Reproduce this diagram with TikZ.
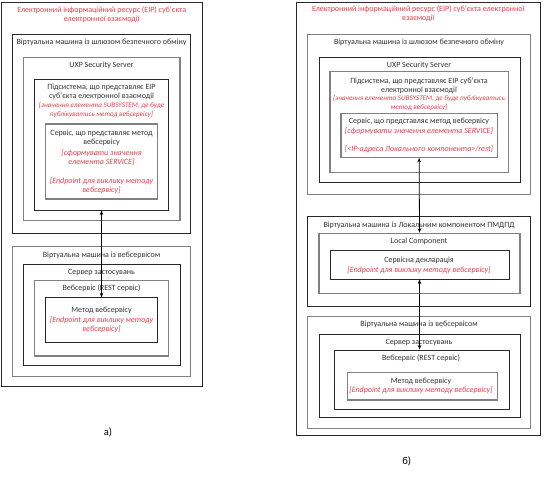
\documentclass[tikz,border=0pt]{standalone}
\usepackage{fontspec}
\setmainfont{Carlito}
\usetikzlibrary{fit,arrows.meta}
\definecolor{redtxt}{RGB}{232,62,76}
\definecolor{gline}{RGB}{128,128,128}
\definecolor{dline}{RGB}{40,40,40}
\tikzset{
  box/.style={draw=dline, line width=0.9pt, inner sep=0pt, fill=none},
  gbox/.style={draw=gline, line width=1.1pt, inner sep=0pt, fill=none},
  txt/.style={text=black!80, font=\fontsize{8}{9}\selectfont, align=center, inner sep=0pt},
  rtxt/.style={text=redtxt, font=\fontsize{8}{9}\selectfont\itshape, align=center, inner sep=0pt},
  srtxt/.style={text=redtxt, font=\fontsize{7.1}{9}\selectfont\itshape, align=center, inner sep=0pt},
  ttl/.style={text=redtxt, font=\fontsize{8}{9}\selectfont, align=center, inner sep=0pt},
  figlabel/.style={text=black, font=\fontsize{10.5}{12}\selectfont, inner sep=0pt},
  link/.style={draw=black, line width=0.8pt, {Stealth[length=4.5pt,width=3.5pt]}-{Stealth[length=4.5pt,width=3.5pt]}}
}
\begin{document}
\begin{tikzpicture}[x=1pt,y=-1pt]
\useasboundingbox[fill=white] (0,0) rectangle (545,476);
% ---------- panel a ----------
\node[box, fit={(1.5,2) (202,386)}] (frA) {};
\node[box, fit={(12.3,34) (190.7,233)}] (vm1A) {};
\node[gbox, fit={(23.3,57.3) (180,220.7)}] (uxpA) {};
\node[box, fit={(34.3,79.3) (168.7,210)}] (subA) {};
\node[gbox, fit={(45.7,124) (157.3,199)}] (srvA) {};
\node[gbox, fit={(12.3,246.7) (190.7,376.7)}] (vm2A) {};
\node[box, fit={(23.3,264) (180,365)}] (appA) {};
\node[gbox, fit={(34.7,280.7) (168.7,356)}] (wsA) {};
\node[box, fit={(45.7,297.7) (157.3,342.7)}] (methA) {};

\node[ttl] (tA1) at (101.7,14.5) {Електронний інформаційний ресурс (ЕІР) суб’єкта\\електронної взаємодії};
\node[txt] (tA2) at (101.5,42.7) {Віртуальна машина із шлюзом безпечного обміну};
\node[txt] (tA3) at (101.5,65.7) {UXP Security Server};
\node[txt] (tA4) at (101.5,92.3) {Підсистема, що представляє ЕІР\\суб’єкта електронної взаємодії};
\node[srtxt] (tA5) at (101.5,110.5) {[значення елемента SUBSYSTEM, де буде\\публікуватись метод вебсервісу]};
\node[txt] (tA6) at (101.5,138.3) {Сервіс, що представляє метод\\вебсервісу};
\node[rtxt] (tA7) at (101.5,157.2) {[сформувати значення\\елемента SERVICE]};
\node[rtxt] (tA8) at (101.5,185.8) {[Endpoint для виклику методу\\вебсервісу]};
\node[txt] (tA9) at (101.5,255) {Віртуальна машина із вебсервісом};
\node[txt] (tA10) at (101.5,272.7) {Сервер застосувань};
\node[txt] (tA11) at (101.5,288.7) {Вебсервіс (REST сервіс)};
\node[txt] (tA12) at (101.5,310.7) {Метод вебсервісу};
\node[rtxt] (tA13) at (101.5,325) {[Endpoint для виклику методу\\вебсервісу]};
\node[figlabel] (capA) at (108,432) {а)};

\draw[link] (subA.south) -- (methA.north);

% ---------- panel b ----------
\node[box, fit={(296,2) (540.7,435)}] (frB) {};
\node[gbox, fit={(307.3,34.3) (530.7,194.3)}] (vm1B) {};
\node[box, fit={(319,57.3) (520,182.3)}] (uxpB) {};
\node[gbox, fit={(330,71.7) (508.3,172.3)}] (subB) {};
\node[gbox, fit={(341,113.3) (497.3,157.3)}] (srvB) {};
\node[box, fit={(307.3,216) (530.7,306)}] (vmlB) {};
\node[gbox, fit={(319,233.3) (520,293.3)}] (lcB) {};
\node[box, fit={(330,250) (509,279)}] (declB) {};
\node[gbox, fit={(307.3,316.7) (530.7,428.3)}] (vm2B) {};
\node[box, fit={(319,334) (520,417.3)}] (appB) {};
\node[box, fit={(334.3,350) (509,409.3)}] (wsB) {};
\node[gbox, fit={(347.7,372.3) (497.7,400)}] (methB) {};

\node[ttl] (tB1) at (418.3,13.8) {Електронний інформаційний ресурс (ЕІР) суб’єкта електронної\\взаємодії};
\node[txt] (tB2) at (419,42.7) {Віртуальна машина із шлюзом безпечного обміну};
\node[txt] (tB3) at (419,65.7) {UXP Security Server};
\node[txt] (tB4) at (419,85.5) {Підсистема, що представляє ЕІР суб’єкта\\електронної взаємодії};
\node[srtxt] (tB5) at (419,103.3) {[значення елемента SUBSYSTEM, де буде публікуватись\\метод вебсервісу]};
\node[txt] (tB6) at (419,121.7) {Сервіс, що представляє метод вебсервісу};
\node[rtxt] (tB7) at (419,131.7) {[сформувати значення елемента SERVICE]};
\node[rtxt] (tB8) at (419,149.3) {[<IP-адреса Локального компонента>/rest]};
\node[txt] (tB9) at (419,225) {Віртуальна машина із Локальним компонентом ПМДПД};
\node[txt] (tB10) at (419,241.7) {Local Component};
\node[txt] (tB11) at (419,260.7) {Сервісна декларація};
\node[rtxt] (tB12) at (419,270) {[Endpoint для виклику методу вебсервісу]};
\node[txt] (tB13) at (419,324.3) {Віртуальна машина із вебсервісом};
\node[txt] (tB14) at (419,342.7) {Сервер застосувань};
\node[txt] (tB15) at (421,358.7) {Вебсервіс (REST сервіс)};
\node[txt] (tB16) at (421,381) {Метод вебсервісу};
\node[rtxt] (tB17) at (421,390.7) {[Endpoint для виклику методу вебсервісу]};
\node[figlabel] (capB) at (406.7,461.7) {б)};

\draw[link] (srvB.south) -- (lcB.north);
\draw[link] (declB.south) -- (declB.south |- wsB.north);
\end{tikzpicture}
\end{document}
